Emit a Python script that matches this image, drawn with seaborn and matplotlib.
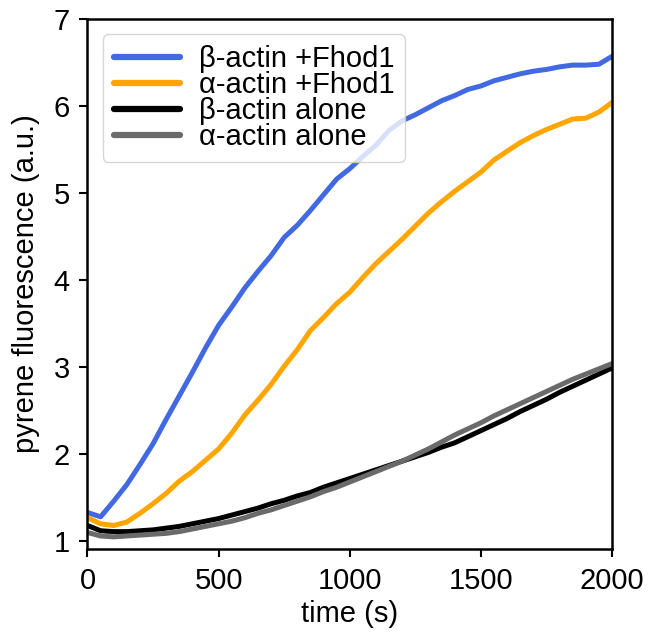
import numpy as np
import pandas as pd
import matplotlib
matplotlib.use("Agg")
import matplotlib.pyplot as plt
import seaborn as sns

time_s = list(range(0, 2001, 50))

beta_fhod1 = [1.33, 1.28, 1.46, 1.65, 1.88, 2.12, 2.40, 2.67, 2.94, 3.22, 3.48,
              3.69, 3.91, 4.10, 4.28, 4.49, 4.63, 4.80, 4.98, 5.16, 5.28,
              5.42, 5.55, 5.72, 5.83, 5.90, 5.98, 6.06, 6.12, 6.19, 6.23,
              6.29, 6.33, 6.37, 6.40, 6.42, 6.45, 6.47, 6.47, 6.48, 6.57]
alpha_fhod1 = [1.27, 1.20, 1.18, 1.22, 1.32, 1.43, 1.55, 1.69, 1.80, 1.93, 2.06,
               2.24, 2.45, 2.62, 2.80, 3.01, 3.20, 3.42, 3.57, 3.73, 3.86,
               4.03, 4.19, 4.33, 4.47, 4.62, 4.77, 4.90, 5.02, 5.13, 5.24,
               5.38, 5.48, 5.58, 5.66, 5.73, 5.79, 5.85, 5.86, 5.93, 6.04]
beta_alone = [1.18, 1.12, 1.11, 1.11, 1.12, 1.13, 1.15, 1.17, 1.20, 1.23, 1.26,
              1.30, 1.34, 1.38, 1.43, 1.47, 1.52, 1.56, 1.62, 1.67, 1.72,
              1.77, 1.82, 1.87, 1.92, 1.97, 2.02, 2.08, 2.13, 2.20, 2.27,
              2.34, 2.41, 2.49, 2.56, 2.63, 2.71, 2.78, 2.85, 2.92, 2.99]
alpha_alone = [1.10, 1.06, 1.05, 1.06, 1.07, 1.08, 1.09, 1.11, 1.14, 1.17, 1.20,
               1.23, 1.27, 1.32, 1.36, 1.41, 1.46, 1.51, 1.57, 1.62, 1.68,
               1.74, 1.80, 1.86, 1.92, 1.99, 2.06, 2.14, 2.22, 2.29, 2.36,
               2.44, 2.51, 2.58, 2.65, 2.72, 2.79, 2.86, 2.92, 2.98, 3.04]

labels = ["β-actin +Fhod1", "α-actin +Fhod1", "β-actin alone", "α-actin alone"]
colors = ["#4169E1", "#FFA500", "#000000", "#6A6A6A"]
series = [beta_fhod1, alpha_fhod1, beta_alone, alpha_alone]
x_ticks = [0, 500, 1000, 1500, 2000]
y_ticks = [1, 2, 3, 4, 5, 6, 7]

df = pd.concat([pd.DataFrame({"time": time_s, "value": v, "sample": lab})
                for lab, v in zip(labels, series)], ignore_index=True)

sns.set_style("ticks")
plt.rcParams["font.family"] = ["Liberation Sans", "DejaVu Sans"]
plt.rcParams["text.color"] = "black"
plt.rcParams["axes.labelcolor"] = "black"
plt.rcParams["xtick.color"] = "black"
plt.rcParams["ytick.color"] = "black"

FS = 21
fig = plt.figure(figsize=(6.5, 6.37), dpi=100)
ax = fig.add_axes([0.1346, 0.1381, 0.8069, 0.8321])

sns.lineplot(data=df, x="time", y="value", hue="sample", hue_order=labels,
             palette=dict(zip(labels, colors)), linewidth=3.6, ax=ax)

ax.set_xlim(0, 2000)
ax.set_ylim(0.91, 7)
ax.set_xticks(x_ticks)
ax.set_yticks(y_ticks)
ax.set_xlabel("time (s)", fontsize=FS, labelpad=4)
ax.set_ylabel("pyrene fluorescence (a.u.)", fontsize=FS, labelpad=10)
ax.tick_params(labelsize=FS, width=1.5, length=5.8, pad=7, direction="out",
               color="black", labelcolor="black")
for sp in ax.spines.values():
    sp.set_linewidth(1.8)
    sp.set_color("black")
    sp.set_visible(True)

leg = ax.legend(loc="upper left", fontsize=FS, frameon=True, framealpha=0.8,
                labelspacing=-0.07, handlelength=2.26, handletextpad=0.65,
                borderpad=0.38, borderaxespad=0.52, title=None)
for line in leg.get_lines():
    line.set_linewidth(4.5)

fig.savefig("out.png", dpi=100)
